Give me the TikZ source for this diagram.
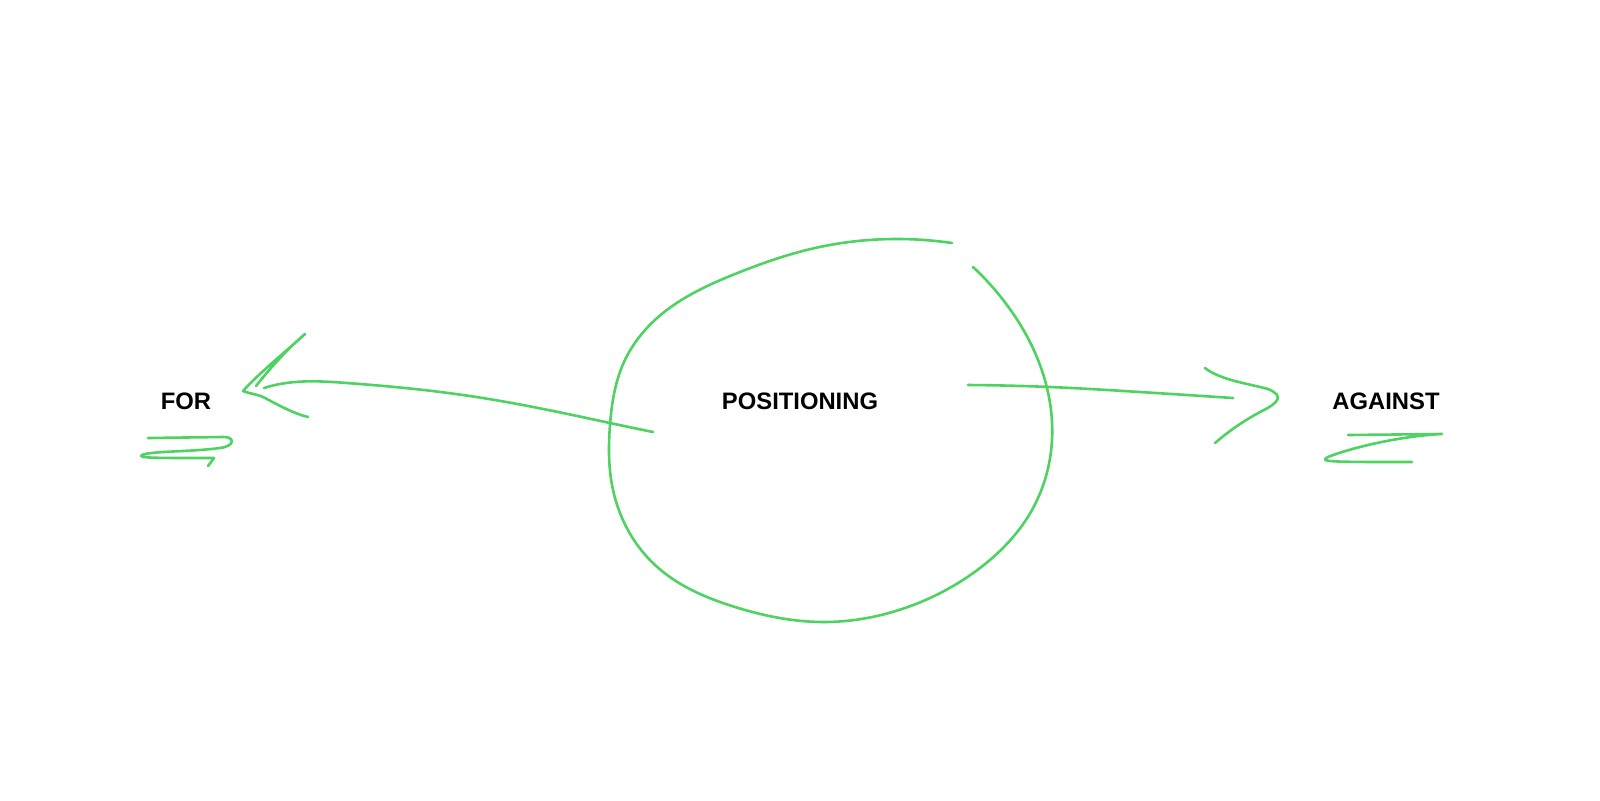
\documentclass[tikz,border=0pt]{standalone}
\usepackage{fontspec}
\setmainfont{Liberation Sans}
\usepackage{xcolor}
\usetikzlibrary{arrows, arrows.meta}
\usetikzlibrary{positioning}
\usetikzlibrary{calc}
\usetikzlibrary{hobby}
\definecolor{penGreen}{RGB}{78,211,99}

\begin{document}
\begin{tikzpicture}[x=0.5pt, y=-0.5pt,
		pen/.style={draw=penGreen, line width=1.3pt, line cap=round, line join=round},
		word/.style={font=\bfseries\fontsize{11.9}{14}\selectfont, inner sep=0pt, anchor=base}]
	\fill[white] (0,0) rectangle (1600,800);
	\useasboundingbox (0,0) rectangle (1600,800);
	% draw words
	\node[word] (for) at (186,409) {FOR};
	\node[word] (pos) at (800,409) {POSITIONING};
	\node[word] (against) at (1386,409) {AGAINST};
	
	% ends of the strokes
	\coordinate (forTip) at (243,391);
	\coordinate (forEnd) at (264,388);
	\coordinate (posLeft) at (653,432);
	\coordinate (posRight) at (968,385);
	\coordinate (againstEnd) at (1233,398);
	
	% draw the loop round positioning
	\draw[pen, use Hobby shortcut] (952,243) .. (900,239) .. (815,248) .. (735,274) .. (663,313) .. (624,362) .. (610,425) .. (612,485) .. (655,565) .. (735,607) .. (822,622) .. (905,608) .. (980,568) .. (1032,510) .. (1052,440) .. (1040,365) .. (1012,312) .. (973,267);
	
	% arrow to the left
	\draw[pen, use Hobby shortcut] (posLeft) .. (610,423) .. (563,413) .. (463,395) .. (347,383) .. (280,384) .. (forEnd);
	\draw[pen] (256,386) .. controls (275,362) and (292,345) .. (305,334) .. controls (290,348) and (260,372) .. (forTip) .. controls (250,394) and (258,394) .. (265,398) .. controls (280,406) and (295,414) .. (308,417);
	% arrow to the right
	\draw[pen, use Hobby shortcut] (posRight) .. (1050,387) .. (1140,392) .. (againstEnd);
	\draw[pen] (1205,368) .. controls (1220,380) and (1250,384) .. (1268,389) .. controls (1285,396) and (1278,403) .. (1262,411) .. controls (1245,420) and (1230,430) .. (1215,443);
	
	% scribbles under the words
	\draw[pen] (148,438) -- (222,437) .. controls (235,436) and (236,446) .. (220,448) .. controls (190,452) and (150,451) .. (142,455) .. controls (138,458) and (150,458) .. (214,458) -- (208,466);
	\draw[pen] (1348,435) -- (1442,434) .. controls (1400,436) and (1350,448) .. (1328,457) .. controls (1318,462) and (1330,462) .. (1412,462);
\end{tikzpicture}
\end{document}
